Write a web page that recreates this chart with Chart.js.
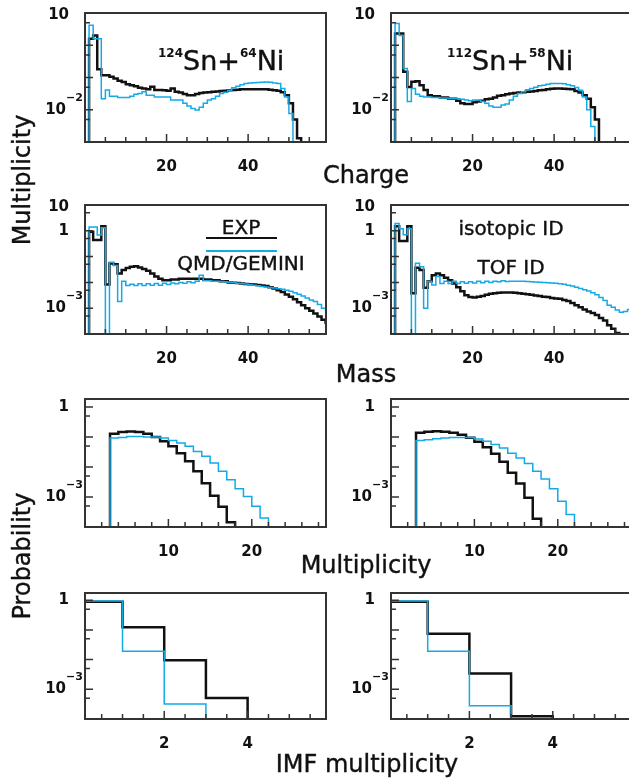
<!DOCTYPE html>
<html>
<head>
<meta charset="utf-8">
<title>Charge, mass and multiplicity distributions</title>
<script src="https://cdn.jsdelivr.net/npm/chart.js@4.4.1/dist/chart.umd.min.js"></script>
<style>
  body { margin: 0; background: #fff; }
  #page { position: relative; width: 629px; height: 779px; overflow: hidden;
          font-family: "DejaVu Sans", sans-serif; color: #111; }
  #page canvas { position: absolute; }
  .txt { position: absolute; white-space: nowrap; line-height: 1; -webkit-text-stroke: 0.4px #111; }
  .axis { font-size: 24px; transform: translateX(-50%); }
  .vaxis { font-size: 24px; transform: translate(-50%, -50%) rotate(-90deg); }
  .react { font-size: 27px; }
  .react sup { font-size: 12px; font-weight: bold; vertical-align: baseline; position: relative; top: -13px; -webkit-text-stroke: 0; }
  .note { font-size: 20px; transform: translateX(-50%); }
  .key { position: absolute; left: 206px; width: 71px; }
</style>
</head>
<body>
<div id="page">
  <canvas id="p1"></canvas>
  <canvas id="p2"></canvas>
  <canvas id="p3"></canvas>
  <canvas id="p4"></canvas>
  <canvas id="p5"></canvas>
  <canvas id="p6"></canvas>
  <canvas id="p7"></canvas>
  <canvas id="p8"></canvas>

  <div class="txt react" style="left:158px; top:47px"><sup>124</sup>Sn+<sup>64</sup>Ni</div>
  <div class="txt react" style="left:447px; top:47px"><sup>112</sup>Sn+<sup>58</sup>Ni</div>

  <div class="txt note" style="left:241px; top:217px">EXP</div>
  <div class="key" style="top:236.5px; height:2.5px; background:#111"></div>
  <div class="key" style="top:250px; height:2px; background:rgb(20,170,230)"></div>
  <div class="txt note" style="left:241px; top:253px">QMD/GEMINI</div>
  <div class="txt note" style="left:511px; top:218px">isotopic ID</div>
  <div class="txt note" style="left:511px; top:257px">TOF ID</div>

  <div class="txt axis" style="left:366px; top:163px">Charge</div>
  <div class="txt axis" style="left:366px; top:362px">Mass</div>
  <div class="txt axis" style="left:366px; top:553px">Multiplicity</div>
  <div class="txt axis" style="left:367px; top:752px">IMF multiplicity</div>
  <div class="txt vaxis" style="left:22px; top:180px">Multiplicity</div>
  <div class="txt vaxis" style="left:22px; top:556px">Probability</div>
</div>

<script>
// bins are 1 unit wide, first bin starts at *Start; 0 = empty bin
const chargeStart = 1;
const z124Exp = [1.6, 2.0, 0.18, 0.118, 0.118, 0.105, 0.093, 0.08, 0.073, 0.062,
  0.058, 0.054, 0.048, 0.046, 0.043, 0.052, 0.041, 0.041, 0.04, 0.039,
  0.046, 0.036, 0.034, 0.031, 0.028, 0.028, 0.031, 0.033, 0.034, 0.035,
  0.036, 0.037, 0.038, 0.039, 0.04, 0.041, 0.042, 0.043, 0.043, 0.043,
  0.043, 0.043, 0.043, 0.043, 0.042, 0.04, 0.039, 0.035, 0.028, 0.016,
  0.005, 0.0013];
const z124Sim = [4.2, 1.6, 1.6, 0.022, 0.041, 0.026, 0.026, 0.024, 0.024, 0.024,
  0.026, 0.03, 0.032, 0.036, 0.028, 0.028, 0.025, 0.025, 0.025, 0.025,
  0.02, 0.02, 0.02, 0.016, 0.013, 0.011, 0.0098, 0.012, 0.016, 0.02,
  0.022, 0.026, 0.032, 0.035, 0.04, 0.048, 0.054, 0.06, 0.065, 0.068,
  0.069, 0.07, 0.071, 0.072, 0.071, 0.068, 0.065, 0.046, 0.025, 0.0077];
const z112Exp = [2.3, 2.3, 0.15, 0.051, 0.074, 0.077, 0.058, 0.041, 0.028, 0.026,
  0.026, 0.024, 0.024, 0.022, 0.022, 0.019, 0.016, 0.015, 0.015, 0.017,
  0.018, 0.019, 0.021, 0.022, 0.024, 0.027, 0.028, 0.03, 0.032, 0.033,
  0.034, 0.035, 0.036, 0.037, 0.038, 0.04, 0.041, 0.043, 0.045, 0.046,
  0.046, 0.045, 0.044, 0.043, 0.038, 0.034, 0.028, 0.022, 0.012, 0.005];
const z112Sim = [4.7, 2.0, 0.19, 0.018, 0.046, 0.03, 0.026, 0.025, 0.025, 0.024,
  0.024, 0.023, 0.023, 0.022, 0.022, 0.022, 0.021, 0.02, 0.019, 0.02,
  0.02, 0.018, 0.016, 0.013, 0.012, 0.012, 0.014, 0.015, 0.02, 0.026,
  0.032, 0.036, 0.042, 0.046, 0.05, 0.055, 0.058, 0.062, 0.065, 0.065,
  0.065, 0.064, 0.06, 0.055, 0.049, 0.04, 0.025, 0.01, 0.003];

const massStart = 1;
const a124Exp = [0.91, 0.44, 0.44, 1.5, 0.0083, 0.054, 0.05, 0.022, 0.03, 0.036,
  0.04, 0.042, 0.038, 0.033, 0.028, 0.022, 0.017, 0.014, 0.012, 0.012,
  0.013, 0.013, 0.014, 0.014, 0.014, 0.014, 0.014, 0.014, 0.013, 0.013,
  0.012, 0.012, 0.011, 0.011, 0.01, 0.0098, 0.0094, 0.009, 0.0087, 0.0084,
  0.0082, 0.0079, 0.0075, 0.0072, 0.0065, 0.0058, 0.005, 0.0042, 0.0034, 0.0028,
  0.0022, 0.0017, 0.0013, 0.001, 0.0008, 0.00062, 0.00048, 0.00036, 0.00027];
const a124Sim = [1.4, 1.4, 0.68, 1.3, 0, 0.06, 0.045, 0.0018, 0.011, 0.0075,
  0.0085, 0.0075, 0.0088, 0.0075, 0.0088, 0.0078, 0.009, 0.0078, 0.0092, 0.0082,
  0.0095, 0.0088, 0.01, 0.0092, 0.0105, 0.0098, 0.011, 0.019, 0.0115, 0.0115,
  0.0112, 0.011, 0.0108, 0.0105, 0.0102, 0.0097, 0.0093, 0.009, 0.0086, 0.0082,
  0.0078, 0.0074, 0.007, 0.0066, 0.0063, 0.006, 0.0057, 0.0054, 0.005, 0.0045,
  0.004, 0.0035, 0.003, 0.0025, 0.0021, 0.0018, 0.0014, 0.001, 0.0007];
const a112Exp = [1.5, 0.4, 0.4, 1.5, 0.0038, 0.037, 0.03, 0.0062, 0.011, 0.019,
  0.022, 0.019, 0.015, 0.012, 0.0091, 0.0065, 0.0045, 0.0032, 0.0027, 0.0026,
  0.0028, 0.003, 0.0033, 0.0036, 0.0038, 0.004, 0.0041, 0.0041, 0.0041, 0.004,
  0.0038, 0.0036, 0.0035, 0.0033, 0.0031, 0.003, 0.0028, 0.0027, 0.0025, 0.0024,
  0.0023, 0.0021, 0.0019, 0.0016, 0.0013, 0.0011, 0.0009, 0.00075, 0.00065, 0.00055,
  0.00042, 0.00033, 0.00022, 0.00016, 0.00011];
const a112Sim = [1.9, 1.2, 0.7, 1.2, 0, 0.055, 0.04, 0.001, 0.011, 0.008,
  0.017, 0.009, 0.011, 0.009, 0.011, 0.009, 0.0105, 0.0092, 0.0105, 0.0095,
  0.011, 0.0098, 0.0112, 0.01, 0.0112, 0.0105, 0.0115, 0.0108, 0.0112, 0.011,
  0.011, 0.011, 0.0108, 0.0106, 0.0104, 0.0102, 0.01, 0.0098, 0.0095, 0.0092,
  0.0088, 0.0084, 0.0078, 0.0072, 0.0065, 0.0058, 0.0052, 0.0046, 0.004, 0.0033,
  0.0026, 0.002, 0.0013, 0.0011, 0.00085, 0.0007, 0.00075, 0.0009];

const multStart = 3;
const m124Exp = [0.129, 0.147, 0.154, 0.147, 0.129, 0.1, 0.072, 0.049, 0.029, 0.0155,
  0.0072, 0.0029, 0.0011, 0.00047, 0.000144];
const m124Sim = [0.093, 0.097, 0.105, 0.105, 0.1, 0.1, 0.093, 0.077, 0.063, 0.049,
  0.033, 0.023, 0.0136, 0.0072, 0.0038, 0.0019, 0.00105, 0.00049, 0.0002];
const m112Exp = [0.14, 0.15, 0.155, 0.15, 0.14, 0.12, 0.095, 0.07, 0.046, 0.028,
  0.015, 0.0065, 0.0028, 0.00095, 0.00019];
const m112Sim = [0.077, 0.082, 0.088, 0.093, 0.097, 0.097, 0.097, 0.086, 0.072, 0.056,
  0.043, 0.029, 0.02, 0.013, 0.0072, 0.004, 0.0019, 0.00072, 0.00026];

const imfStart = 0;
const imf124Exp = [0.88, 0.123, 0.0095, 0.00051];
const imf124Sim = [0.95, 0.019, 0.00032];
const imf112Exp = [0.88, 0.074, 0.0034, 0.000123];
const imf112Sim = [0.95, 0.019, 0.00028];

const chargeTickLabels = [20, 40];
const massTickLabels = [20, 40];
const multTickLabels = [10, 20];
const imfTickLabels = [2, 4];

// y labels given as powers of ten
const chargeDecadeLabels = [1, -2];
const massDecadeLabels = [1, 0, -3];
const probDecadeLabels = [0, -3];

const BLUE = 'rgb(20,170,230)';
const INK = '#111';
const FRAME = '#333';
const FLOOR = 1e-7; // below every axis, used to close the histograms
const PAD = { left: 85, top: 13, right: 4, bottom: 36 };

const panels = [
  { id: 'p1', left: 85, top: 13, right: 326, bottom: 142, x: [0, 59.1], y: [1e-3, 10], step: 5,
    xLabels: chargeTickLabels, yLabels: chargeDecadeLabels, start: chargeStart, exp: z124Exp, sim: z124Sim },
  { id: 'p2', left: 391, top: 13, right: 632, bottom: 142, x: [0, 59.1], y: [1e-3, 10], step: 5,
    xLabels: chargeTickLabels, yLabels: chargeDecadeLabels, start: chargeStart, exp: z112Exp, sim: z112Sim },
  { id: 'p3', left: 85, top: 205, right: 326, bottom: 334, x: [0, 59.1], y: [1e-4, 10], step: 5,
    xLabels: massTickLabels, yLabels: massDecadeLabels, start: massStart, exp: a124Exp, sim: a124Sim },
  { id: 'p4', left: 391, top: 205, right: 632, bottom: 334, x: [0, 59.1], y: [1e-4, 10], step: 5,
    xLabels: massTickLabels, yLabels: massDecadeLabels, start: massStart, exp: a112Exp, sim: a112Sim },
  { id: 'p5', left: 85, top: 399, right: 326, bottom: 527, x: [0, 28.9], y: [1e-4, 1.86], step: 2,
    xLabels: multTickLabels, yLabels: probDecadeLabels, start: multStart, exp: m124Exp, sim: m124Sim },
  { id: 'p6', left: 391, top: 399, right: 632, bottom: 527, x: [0, 28.9], y: [1e-4, 1.86], step: 2,
    xLabels: multTickLabels, yLabels: probDecadeLabels, start: multStart, exp: m112Exp, sim: m112Sim },
  { id: 'p7', left: 85, top: 593, right: 326, bottom: 719, x: [0.1, 5.88], y: [1e-4, 1.75], step: 0.5,
    xLabels: imfTickLabels, yLabels: probDecadeLabels, start: imfStart, exp: imf124Exp, sim: imf124Sim },
  { id: 'p8', left: 391, top: 593, right: 632, bottom: 719, x: [0.12, 5.9], y: [1e-4, 1.75], step: 0.5,
    xLabels: imfTickLabels, yLabels: probDecadeLabels, start: imfStart, exp: imf112Exp, sim: imf112Sim }
];

// step outline of a histogram, closed down to the floor at both ends
function histPoints(start, values) {
  const pts = [{ x: start, y: FLOOR }];
  values.forEach((v, i) => pts.push({ x: start + i, y: v > 0 ? v : FLOOR }));
  pts.push({ x: start + values.length, y: FLOOR });
  return pts;
}

function logTicks(min, max) {
  const out = [];
  for (let k = Math.floor(Math.log10(min)) - 1; k <= Math.ceil(Math.log10(max)); k++) {
    const d = Math.pow(10, k);
    out.push([d, 8], [5 * d, 5]);
  }
  return out.filter(([v]) => v > min * 1.01 && v < max * 0.99);
}

// PAW-like frame: ticks inside on left and bottom, labels outside
function pawAxes(p) {
  return {
    id: 'pawAxes',
    afterDatasetsDraw(chart) {
      const { ctx, chartArea: a, scales } = chart;
      ctx.save();
      ctx.strokeStyle = FRAME;
      ctx.lineWidth = 1.5;
      ctx.beginPath();
      logTicks(p.y[0], p.y[1]).forEach(([v, len]) => {
        const y = scales.y.getPixelForValue(v);
        ctx.moveTo(a.left, y);
        ctx.lineTo(a.left + len, y);
      });
      for (let v = p.step; v < p.x[1]; v += p.step) {
        if (v <= p.x[0]) continue;
        const x = scales.x.getPixelForValue(v);
        const len = p.xLabels.some(l => Math.abs(l - v) < 1e-6) ? 8 : 5;
        ctx.moveTo(x, a.bottom);
        ctx.lineTo(x, a.bottom - len);
      }
      ctx.stroke();

      ctx.lineWidth = 2;
      ctx.strokeRect(a.left, a.top, a.right - a.left, a.bottom - a.top);

      ctx.fillStyle = INK;
      ctx.textBaseline = 'middle';
      p.yLabels.forEach(e => {
        const y = Math.max(scales.y.getPixelForValue(Math.pow(10, e)), a.top + 2);
        ctx.font = 'bold 15px "DejaVu Sans"';
        ctx.textAlign = 'right';
        if (e === 0 || e === 1) {
          ctx.fillText(e === 1 ? '10' : '1', a.left - 16, y);
        } else {
          ctx.fillText('10', a.left - 19, y);
          ctx.font = 'bold 11px "DejaVu Sans"';
          ctx.textAlign = 'left';
          ctx.fillText('\u2212' + Math.abs(e), a.left - 19, y - 12);
        }
      });
      ctx.font = 'bold 15px "DejaVu Sans"';
      ctx.textAlign = 'center';
      p.xLabels.forEach(v => {
        ctx.fillText(String(v), scales.x.getPixelForValue(v), a.bottom + 25);
      });
      ctx.restore();
    }
  };
}

panels.forEach(p => {
  const canvas = document.getElementById(p.id);
  const w = p.right - p.left + PAD.left + PAD.right;
  const h = p.bottom - p.top + PAD.top + PAD.bottom;
  canvas.width = w;
  canvas.height = h;
  canvas.style.width = w + 'px';
  canvas.style.height = h + 'px';
  canvas.style.left = (p.left - PAD.left) + 'px';
  canvas.style.top = (p.top - PAD.top) + 'px';

  new Chart(canvas, {
    type: 'line',
    data: {
      datasets: [
        { data: histPoints(p.start, p.sim), borderColor: BLUE, borderWidth: 1.5,
          stepped: true, pointRadius: 0, fill: false, borderJoinStyle: 'miter' },
        { data: histPoints(p.start, p.exp), borderColor: INK, borderWidth: 2.5,
          stepped: true, pointRadius: 0, fill: false, borderJoinStyle: 'miter' }
      ]
    },
    options: {
      responsive: false,
      animation: false,
      devicePixelRatio: 1,
      events: [],
      layout: { padding: PAD },
      plugins: { legend: { display: false }, tooltip: { enabled: false } },
      scales: {
        x: { type: 'linear', min: p.x[0], max: p.x[1], display: false },
        y: { type: 'logarithmic', min: p.y[0], max: p.y[1], display: false }
      }
    },
    plugins: [pawAxes(p)]
  });
});
</script>
</body>
</html>
